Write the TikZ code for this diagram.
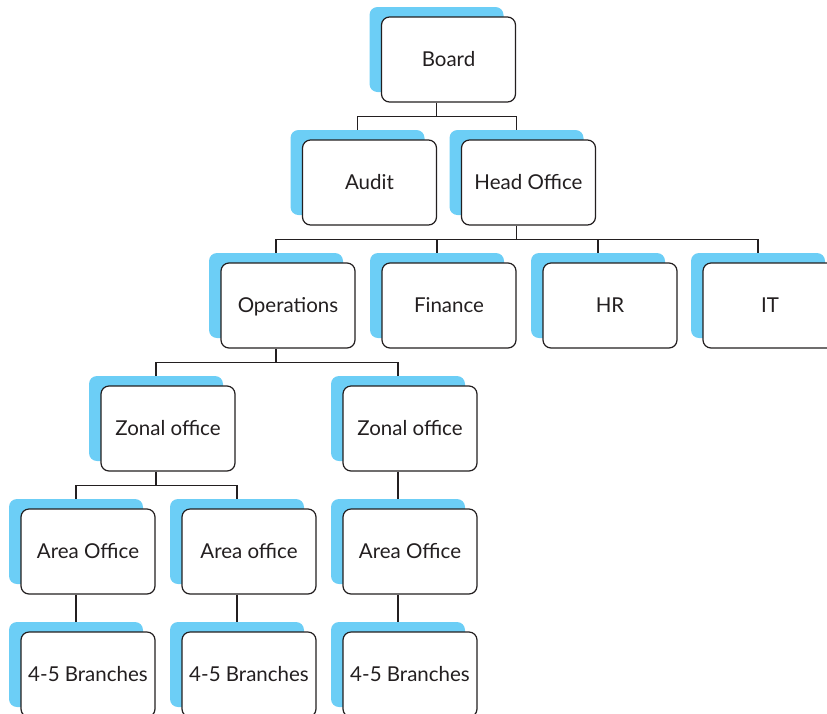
\documentclass[tikz,border=0pt]{standalone}
\usepackage{fontspec}
\setmainfont{Lato}
\usetikzlibrary{calc}
\definecolor{tabblue}{RGB}{108,206,246}
\definecolor{inkline}{RGB}{35,31,32}
\tikzset{
  tab/.style={rectangle, rounded corners=8pt, fill=tabblue, draw=none,
    minimum width=134pt, minimum height=85pt, inner sep=0pt},
  card/.style={rectangle, rounded corners=8pt, fill=white, draw=inkline,
    line width=1.2pt, minimum width=134pt, minimum height=85pt, inner sep=0pt,
    font=\fontsize{20.5}{24}\selectfont, text=inkline,
    text height=14.8pt, text depth=0pt},
  wire/.style={draw=inkline, line width=1.1pt}
}
% \orgunit{name}{x}{y}{label}: blue tab centred at (x,y), white card offset down-right
\newcommand\orgunit[4]{%
  \node[tab] (#1T) at (#2,#3) {};
  \node[card] (#1) at (#2+12,#3+10) {#4};
}
\begin{document}
\begin{tikzpicture}[x=1pt,y=-1pt]
\useasboundingbox (0,0) rectangle (827,713);
\clip (0,0) rectangle (827,713);

% row 1
\orgunit{board}{436.5}{49.5}{Board}
% row 2
\orgunit{audit}{357.5}{172.5}{Audit}
\orgunit{head}{516.5}{172.5}{Head Office}
% row 3
\orgunit{ops}{276}{295.5}{Operations}
\orgunit{fin}{437}{295.5}{Finance}
\orgunit{hr}{598}{295.5}{HR}
\orgunit{it}{758}{295.5}{IT}
% row 4
\orgunit{zoneA}{156}{418.5}{Zonal office}
\orgunit{zoneB}{398}{418.5}{Zonal office}
% row 5
\orgunit{areaA}{76}{541.5}{Area Office}
\orgunit{areaB}{237}{541.5}{Area office}
\orgunit{areaC}{398}{541.5}{Area Office}
% row 6
\orgunit{brA}{76}{664.5}{4-5 Branches}
\orgunit{brB}{237}{664.5}{4-5 Branches}
\orgunit{brC}{398}{664.5}{4-5 Branches}

% connectors: stems leave each card below its tab centre
\draw[wire] (boardT |- board.south) -- ++(0,14) coordinate (busA);
\draw[wire] (auditT.north) |- (busA) -| (headT.north);

\draw[wire] (headT |- head.south) -- ++(0,14) coordinate (busB);
\draw[wire] (opsT.north) |- (busB) -| (itT.north);
\draw[wire] (finT.north) -- (finT |- busB);
\draw[wire] (hrT.north) -- (hrT |- busB);

\draw[wire] (opsT |- ops.south) -- ++(0,14) coordinate (busC);
\draw[wire] (zoneAT.north) |- (busC) -| (zoneBT.north);

\draw[wire] (zoneAT |- zoneA.south) -- ++(0,14) coordinate (busD);
\draw[wire] (areaAT.north) |- (busD) -| (areaBT.north);
\draw[wire] (zoneBT |- zoneB.south) -- (areaCT.north);

\draw[wire] (areaAT |- areaA.south) -- (brAT.north);
\draw[wire] (areaBT |- areaB.south) -- (brBT.north);
\draw[wire] (areaCT |- areaC.south) -- (brCT.north);
\end{tikzpicture}
\end{document}
